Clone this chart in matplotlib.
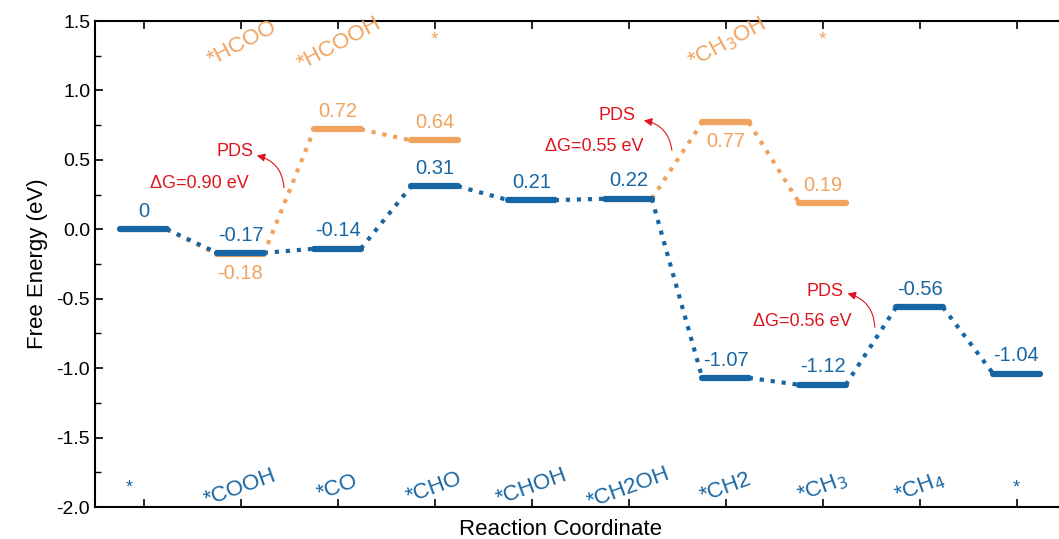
import matplotlib.pyplot as plt
from matplotlib.ticker import MultipleLocator

plt.rcParams['font.family'] = ['Liberation Sans', 'DejaVu Sans']
plt.rcParams['axes.unicode_minus'] = False

# CO2RR free-energy diagram data
steps = [1, 2, 3, 4, 5, 6, 7, 8, 9, 10]
blue_values = [0, -0.17, -0.14, 0.31, 0.21, 0.22, -1.07, -1.12, -0.56, -1.04]
blue_names = ['*', '*COOH', '*CO', '*CHO', '*CHOH', '*CH2OH', '*CH2',
              '*CH$_3$', '*CH$_4$', '*']

orange_steps = [2, 3, 4, 7, 8]
orange_values = [-0.18, 0.72, 0.64, 0.77, 0.19]
orange_names = ['*HCOO', '*HCOOH', '*', '*CH$_3$OH', '*']
# orange branch starts from these blue steps
orange_branch_from = [1, 6]

pds_text = ['ΔG=0.90 eV', 'ΔG=0.55 eV', 'ΔG=0.56 eV']
pds_text_pos = [(1.58, 0.33), (5.65, 0.593), (7.79, -0.667)]
pds_label_pos = [(1.94, 0.557), (5.88, 0.816), (8.03, -0.45)]
pds_arrow = [((2.45, 0.28), (2.14, 0.535)), ((6.45, 0.55), (6.13, 0.787)),
             ((8.54, -0.725), (8.23, -0.458))]

blue = '#1766a3'
orange = '#f0a35e'
red = '#e0141e'
hw = 0.24

fig = plt.figure(figsize=(10.59, 5.39), dpi=100)
ax = fig.add_axes([95 / 1059, 32 / 539, 970 / 1059, 486 / 539])


def draw_path(xs, ys, color, start=None):
    prev = start
    for x, y in zip(xs, ys):
        if prev is not None:
            ax.plot([prev[0] + hw, x - hw], [prev[1], y], ':', color=color, lw=3, zorder=2)
        ax.plot([x - hw, x + hw], [y, y], '-', color=color, lw=4.5,
                solid_capstyle='round', zorder=3)
        prev = (x, y)


# orange branches
draw_path(orange_steps[:3], orange_values[:3], orange,
          start=(orange_branch_from[0], blue_values[orange_branch_from[0] - 1]))
draw_path(orange_steps[3:], orange_values[3:], orange,
          start=(orange_branch_from[1], blue_values[orange_branch_from[1] - 1]))
# blue main path
draw_path(steps, blue_values, blue)

for x, v in zip(steps, blue_values):
    ax.text(x, v + 0.06, '0' if v == 0 else f'{v:.2f}', color=blue, fontsize=14.5,
            ha='center', va='bottom')
for x, v in zip(orange_steps, orange_values):
    if v in (-0.18, 0.77):
        ax.text(x, v - 0.07, f'{v:.2f}', color=orange, fontsize=14.5, ha='center', va='top')
    else:
        ax.text(x, v + 0.06, f'{v:.2f}', color=orange, fontsize=14.5, ha='center', va='bottom')

for x, name in zip(steps, blue_names):
    if name == '*':
        ax.text(x - 0.15 if x == 1 else x, -1.86, name, color=blue, fontsize=13,
                ha='center', va='center')
    else:
        ax.text(x, -1.86, name, color=blue, fontsize=16, ha='center', va='center',
                rotation=20, rotation_mode='anchor')
for x, name in zip(orange_steps, orange_names):
    if name == '*':
        ax.text(x, 1.36, name, color=orange, fontsize=14, ha='center', va='center')
    else:
        ax.text(x + 0.02, 1.34, name, color=orange, fontsize=16, ha='center', va='center',
                rotation=28, rotation_mode='anchor')

for t, tp, lp, (a0, a1) in zip(pds_text, pds_text_pos, pds_label_pos, pds_arrow):
    ax.text(*lp, 'PDS', color=red, fontsize=13, ha='center', va='center')
    ax.text(*tp, t, color=red, fontsize=13, ha='center', va='center')
    ax.annotate('', xy=a1, xytext=a0,
                arrowprops=dict(arrowstyle='-|>', color=red, lw=0.8,
                                connectionstyle='arc3,rad=0.4', mutation_scale=12))

ax.set_xlim(0.5, 10.5)
ax.set_ylim(-2.0, 1.5)
ax.set_xticks(steps)
ax.set_xticklabels([])
ax.yaxis.set_major_locator(MultipleLocator(0.5))
ax.yaxis.set_minor_locator(MultipleLocator(0.25))
ax.spines['right'].set_visible(False)
ax.tick_params(axis='both', which='both', direction='in', top=True, right=False)
ax.tick_params(axis='both', which='major', length=6, width=1.2, labelsize=14)
ax.tick_params(axis='y', which='minor', length=4, width=1)
for s in ax.spines.values():
    s.set_linewidth(1.5)
ax.set_ylabel('Free Energy (eV)', fontsize=16, labelpad=6)
ax.set_xlabel('Reaction Coordinate', fontsize=16, labelpad=6)
ax.xaxis.set_label_coords(0.48, -0.025)

fig.savefig('out.png', dpi=100)
